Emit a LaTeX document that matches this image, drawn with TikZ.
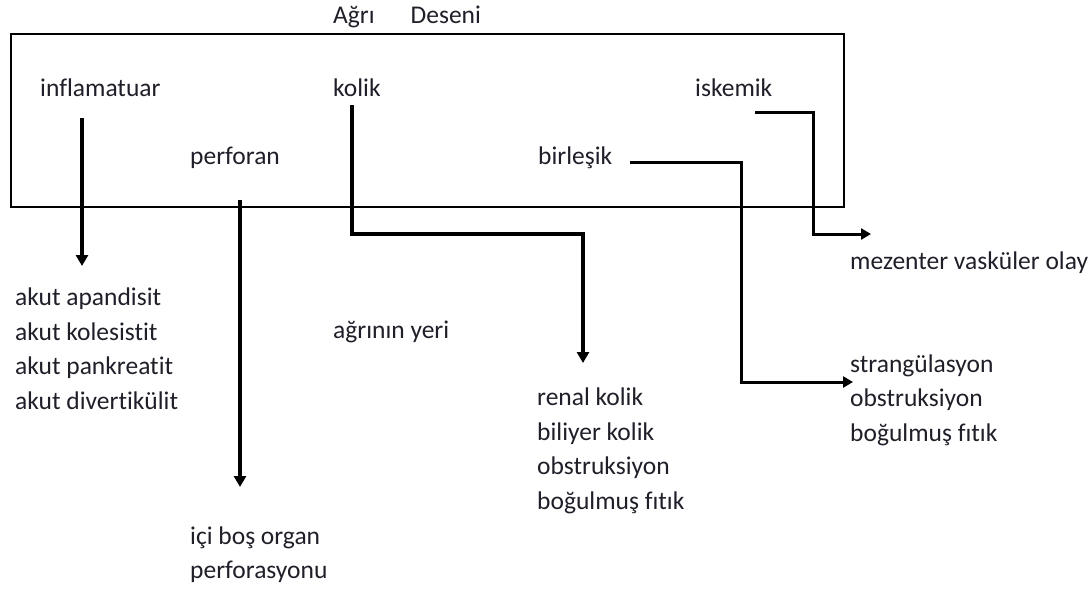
\documentclass[tikz,border=0pt]{standalone}
\usepackage{fontspec}
\setmainfont{Carlito}[Ligatures={NoCommon}]
\usetikzlibrary{arrows.meta}
\definecolor{txtcol}{rgb}{0.12,0.12,0.16}
\tikzset{
  lbl/.style={anchor=west, inner sep=0pt, align=left, text=txtcol,
    font=\fontsize{25.5}{34.5}\selectfont},
  link/.style={line width=4pt, -{Triangle[length=11pt,width=12pt]}},
  thinlink/.style={line width=3pt, -{Triangle[length=10pt,width=11pt]}},
}
\begin{document}
\begin{tikzpicture}[x=1pt,y=-1pt]
\useasboundingbox (0,0) rectangle (1092,590);
% frame
\draw[line width=2.6pt] (11,34) rectangle (844,207);
\node[lbl] (title) at (333,17) {Ağrı\hspace{36pt}Deseni};
% pain types
\node[lbl] (inflam) at (40,88) {inflamatuar};
\node[lbl] (kolik) at (333,88) {kolik};
\node[lbl] (iskemik) at (695,88) {iskemik};
\node[lbl] (perforan) at (190,158) {perforan};
\node[lbl] (birlesik) at (538,158) {birleşik};
% results
\node[lbl] (inflamlist) at (15,348.5) {akut apandisit\\akut kolesistit\\akut pankreatit\\akut divertikülit};
\node[lbl] (yeri) at (333,332) {ağrının yeri};
\node[lbl] (koliklist) at (537,451) {renal kolik\\biliyer kolik\\obstruksiyon\\boğulmuş fıtık};
\node[lbl] (mezenter) at (850,263) {mezenter vasküler olay};
\node[lbl] (birlist) at (850,400) {strangülasyon\\obstruksiyon\\boğulmuş fıtık};
\node[lbl] (perflist) at (190,554.5) {içi boş organ\\perforasyonu};
% connectors
\coordinate (inflam-s) at (82,118);
\coordinate (inflam-e) at (82,266);
\coordinate (perf-s) at (240,200);
\coordinate (perf-e) at (240,487);
\coordinate (kolik-s) at (352,105);
\coordinate (kolik-c) at (583,234);
\coordinate (kolik-e) at (583,363);
\coordinate (birl-s) at (630,162);
\coordinate (birl-c) at (741,382);
\coordinate (birl-e) at (853,382);
\coordinate (isk-s) at (755,112);
\coordinate (isk-c) at (813,234);
\coordinate (isk-e) at (871,234);
\draw[link] (inflam-s) -- (inflam-e);
\draw[link] (perf-s) -- (perf-e);
\draw[link] (kolik-s) |- (kolik-c) -- (kolik-e);
\draw[thinlink] (birl-s) -| (birl-c) -- (birl-e);
\draw[thinlink] (isk-s) -| (isk-c) -- (isk-e);
\end{tikzpicture}
\end{document}
